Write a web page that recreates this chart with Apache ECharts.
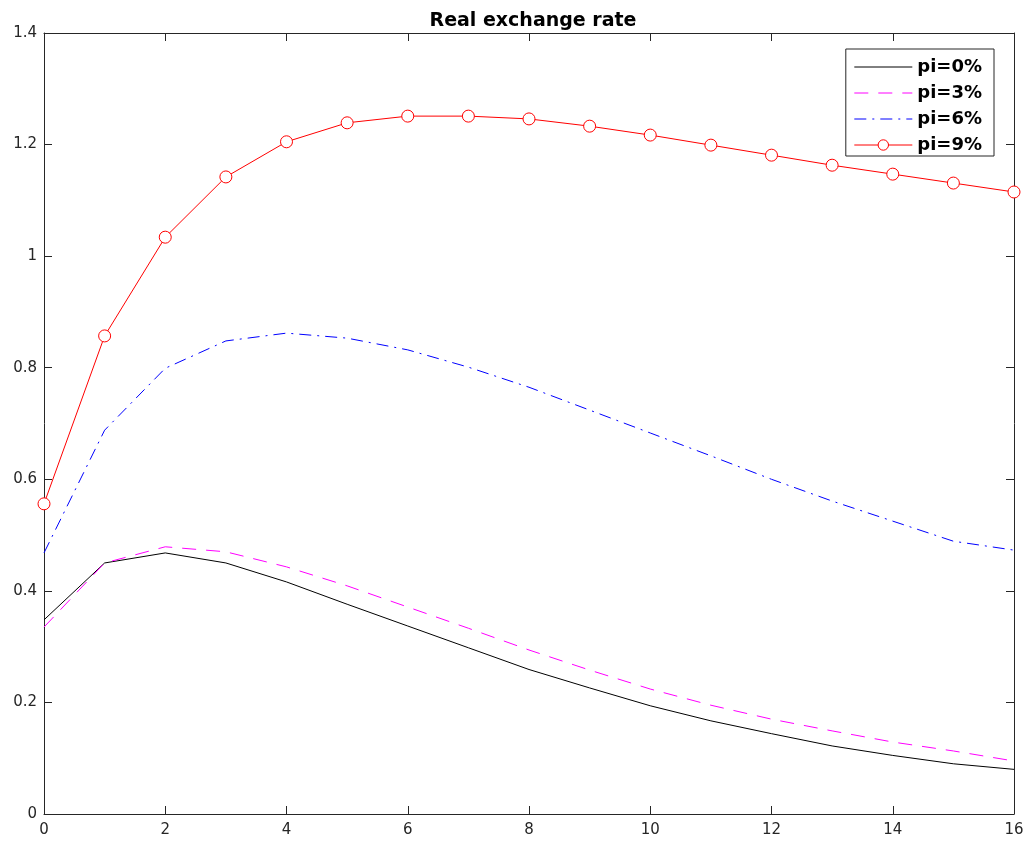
<!DOCTYPE html>
<html><head><meta charset="utf-8">
<script src="https://cdn.jsdelivr.net/npm/echarts@6/dist/echarts.min.js"></script>
<style>html,body{margin:0;padding:0;background:#fff}#c{width:1029px;height:844px}</style>
</head><body><div id="c"></div>
<script>
const periods = [0,1,2,3,4,5,6,7,8,9,10,11,12,13,14,15,16];
const pi0 = [0.348,0.450,0.468,0.450,0.416,0.376,0.337,0.298,0.259,0.226,0.194,0.167,0.144,0.122,0.105,0.090,0.080];
const pi3 = [0.335,0.450,0.479,0.470,0.443,0.409,0.371,0.333,0.294,0.258,0.224,0.195,0.170,0.149,0.129,0.113,0.095];
const pi6 = [0.468,0.688,0.799,0.848,0.862,0.853,0.832,0.801,0.765,0.724,0.683,0.642,0.600,0.561,0.525,0.489,0.473];
const pi9 = [0.556,0.857,1.034,1.142,1.205,1.239,1.251,1.251,1.246,1.233,1.217,1.199,1.181,1.163,1.147,1.131,1.115];
const names = ['pi=0%','pi=3%','pi=6%','pi=9%'];
const title = 'Real exchange rate';

const chart = echarts.init(document.getElementById('c'));
const pairs = a => periods.map((p,i)=>[p,a[i]]);
const font = 'DejaVu Sans, sans-serif';
const axisLine = {show:true, onZero:false, lineStyle:{color:'#262626', width:1}};
const axisTick = {show:true, inside:true, length:8, lineStyle:{color:'#262626'}};
chart.setOption({
  backgroundColor:'#fff',
  animation:false,
  title:{text:title, left:528, top:7, textAlign:'center',
    textStyle:{fontFamily:font, fontWeight:'bold', fontSize:19, color:'#000'}},
  grid:{left:44, right:15, top:33, bottom:30},
  legend:{
    right:35, top:49, orient:'vertical', itemWidth:58, itemHeight:13, itemGap:6,
    padding:[8,12,1,8], borderColor:'#262626', borderWidth:1, backgroundColor:'#fff',
    textStyle:{fontFamily:font, fontWeight:'bold', fontSize:18, color:'#000', lineHeight:20},
    lineStyle:{width:1},
    data:[
      {name:names[0], itemStyle:{opacity:0}},
      {name:names[1], itemStyle:{opacity:0}},
      {name:names[2], itemStyle:{opacity:0}},
      {name:names[3], itemStyle:{borderWidth:1}}
    ]
  },
  xAxis:[
    {type:'value', min:0, max:16, interval:2, position:'bottom',
     axisLine, axisTick, splitLine:{show:false},
     axisLabel:{fontFamily:font, fontSize:15, color:'#262626', margin:9}},
    {type:'value', min:0, max:16, interval:2, position:'top',
     axisLine, axisTick, splitLine:{show:false}, axisLabel:{show:false}}
  ],
  yAxis:[
    {type:'value', min:0, max:1.4, interval:0.2, position:'left',
     axisLine, axisTick, splitLine:{show:false},
     axisLabel:{fontFamily:font, fontSize:15, color:'#262626', margin:7,
       formatter:v=>String(Math.round(v*10)/10)}},
    {type:'value', min:0, max:1.4, interval:0.2, position:'right',
     axisLine, axisTick, splitLine:{show:false}, axisLabel:{show:false}}
  ],
  series:[
    {name:names[0], type:'line', data:pairs(pi0), showSymbol:false, symbol:'none',
     lineStyle:{color:'#000', width:1}, itemStyle:{color:'#000'}},
    {name:names[1], type:'line', data:pairs(pi3), showSymbol:false, symbol:'none',
     lineStyle:{color:'#ff00ff', width:1, type:[14,10]}, itemStyle:{color:'#ff00ff'}},
    {name:names[2], type:'line', data:pairs(pi6), showSymbol:false, symbol:'none',
     lineStyle:{color:'#0000ff', width:1, type:[12,6,2,6]}, itemStyle:{color:'#0000ff'}},
    {name:names[3], type:'line', data:pairs(pi9), symbol:'circle', symbolSize:12, showSymbol:true,
     lineStyle:{color:'#ff0000', width:1},
     itemStyle:{color:'#fff', borderColor:'#ff0000', borderWidth:1}}
  ]
});
</script></body></html>
